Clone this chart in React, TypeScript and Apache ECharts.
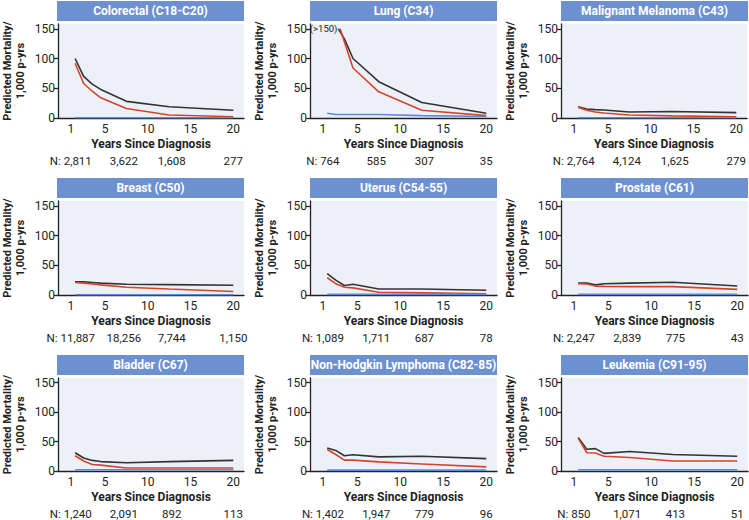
import React, { useEffect, useRef } from "react";
import * as echarts from "echarts";

// ---------- data ----------
const years = [1.5, 2.5, 3.5, 4.5, 7.5, 12.5, 20];
const lungYearsAll = [2.8, 3.5, 4.5, 7.5, 12.5, 20];
const lungYearsCancer = [3.0, 4.5, 7.5, 12.5, 20];

const titles = [
  "Colorectal (C18-C20)",
  "Lung (C34)",
  "Malignant Melanoma (C43)",
  "Breast (C50)",
  "Uterus (C54-55)",
  "Prostate (C61)",
  "Bladder (C67)",
  "Non-Hodgkin Lymphoma (C82-85)",
  "Leukemia (C91-95)",
];

// black = all-cause, red = cancer, blue = cardiovascular
const colorectalAll = [100, 70, 57, 48, 28, 19, 13];
const colorectalCancer = [92, 58, 45, 34, 16, 5, 2];
const colorectalCvd = [0.5, 0.5, 0.5, 0.5, 0.5, 0.5, 0.5];

const lungAll = [150, 133, 100, 61, 26, 8];
const lungCancer = [150, 84, 44, 13, 4];
const lungCvd = [8, 6, 6, 6, 6, 4, 2.5];

const melanomaAll = [19, 15, 14, 13.5, 10, 11, 9];
const melanomaCancer = [18, 13, 10, 8.5, 5, 3.5, 2];
const melanomaCvd = [0.5, 0.5, 0.5, 0.5, 0.5, 0.5, 0.5];

const breastAll = [22, 22, 21, 20, 18, 17.5, 16.5];
const breastCancer = [21, 20, 18.5, 17, 13, 10, 6];
const breastCvd = [0.5, 0.5, 0.5, 0.5, 0.5, 0.5, 0.5];

const uterusAll = [36, 25, 16, 18, 10, 10, 8];
const uterusCancer = [29, 19, 13, 12, 4.5, 3.5, 2];
const uterusCvd = [1, 1, 1, 1, 1, 1, 1];

const prostateAll = [20, 20, 17, 19, 20, 21.5, 15];
const prostateCancer = [19, 18.5, 15, 14.5, 14, 14, 9.5];
const prostateCvd = [1, 1, 1, 1, 1, 1, 1];

const bladderAll = [31, 22, 18, 16, 14, 16, 18];
const bladderCancer = [26, 17, 11, 10, 5, 5, 5];
const bladderCvd = [2, 2, 2, 2, 2, 2, 2];

const nhlAll = [39, 35, 26, 27.5, 24, 25, 21];
const nhlCancer = [36.5, 28, 18.5, 18.5, 15.5, 12, 7];
const nhlCvd = [1.5, 1.5, 1.5, 1.5, 1.5, 1.5, 1.5];

const leukemiaAll = [57, 37, 38, 30, 33, 28, 25];
const leukemiaCancer = [56, 31, 30.5, 25, 23, 17, 17];
const leukemiaCvd = [2, 2, 2, 2, 2, 2, 2];

const nYears = [1, 7.2, 12.8, 20];
const colorectalN = ["2,811", "3,622", "1,608", "277"];
const lungN = ["764", "585", "307", "35"];
const melanomaN = ["2,764", "4,124", "1,625", "279"];
const breastN = ["11,887", "18,256", "7,744", "1,150"];
const uterusN = ["1,089", "1,711", "687", "78"];
const prostateN = ["2,247", "2,839", "775", "43"];
const bladderN = ["1,240", "2,091", "892", "113"];
const nhlN = ["1,402", "1,947", "779", "96"];
const leukemiaN = ["850", "1,071", "413", "51"];

const xTicks = [1, 5, 10, 15, 20];
const yTicks = [0, 50, 100, 150];

// ---------- panels ----------
type Panel = {
  title: string;
  all: number[];
  allX: number[];
  cancer: number[];
  cancerX: number[];
  cvd: number[];
  cvdX: number[];
  n: string[];
  clipped?: boolean;
};

const panels: Panel[] = [
  { title: titles[0], all: colorectalAll, allX: years, cancer: colorectalCancer, cancerX: years, cvd: colorectalCvd, cvdX: years, n: colorectalN },
  { title: titles[1], all: lungAll, allX: lungYearsAll, cancer: lungCancer, cancerX: lungYearsCancer, cvd: lungCvd, cvdX: years, n: lungN, clipped: true },
  { title: titles[2], all: melanomaAll, allX: years, cancer: melanomaCancer, cancerX: years, cvd: melanomaCvd, cvdX: years, n: melanomaN },
  { title: titles[3], all: breastAll, allX: years, cancer: breastCancer, cancerX: years, cvd: breastCvd, cvdX: years, n: breastN },
  { title: titles[4], all: uterusAll, allX: years, cancer: uterusCancer, cancerX: years, cvd: uterusCvd, cvdX: years, n: uterusN },
  { title: titles[5], all: prostateAll, allX: years, cancer: prostateCancer, cancerX: years, cvd: prostateCvd, cvdX: years, n: prostateN },
  { title: titles[6], all: bladderAll, allX: years, cancer: bladderCancer, cancerX: years, cvd: bladderCvd, cvdX: years, n: bladderN },
  { title: titles[7], all: nhlAll, allX: years, cancer: nhlCancer, cancerX: years, cvd: nhlCvd, cvdX: years, n: nhlN },
  { title: titles[8], all: leukemiaAll, allX: years, cancer: leukemiaCancer, cancerX: years, cvd: leukemiaCvd, cvdX: years, n: leukemiaN },
];

// ---------- layout ----------
const COL_LEFT = [57, 310, 561];
const ROW_BOTTOM = [118, 295, 472];
const GRID_W = 187;
const GRID_H = 94;
const FONT = "Roboto, 'Noto Sans', sans-serif";
const TEXT = "#222";
const BLACK = "#333333";
const RED = "#d2452b";
const BLUE = "#5b8bd6";
const BANNER = "#6d90d0";
const PLOT_BG = "#eef0f9";

function buildOption() {
  const grid: any[] = [];
  const xAxis: any[] = [];
  const yAxis: any[] = [];
  const series: any[] = [];
  const graphic: any[] = [];

  panels.forEach((p, i) => {
    const c = i % 3;
    const r = Math.floor(i / 3);
    const left = COL_LEFT[c];
    const top = ROW_BOTTOM[r] - GRID_H;
    grid.push({
      left,
      top,
      width: GRID_W,
      height: GRID_H,
      show: true,
      backgroundColor: PLOT_BG,
      borderWidth: 0,
    });
    // main x axis
    xAxis.push({
      gridIndex: i,
      type: "value",
      min: -0.5,
      max: 21.25,
      position: "bottom",
      axisLine: { show: true, onZero: false, lineStyle: { color: TEXT, width: 1.3 } },
      axisTick: { show: false },
      splitLine: { show: false },
      axisLabel: { customValues: xTicks, color: TEXT, fontSize: 12, margin: 5, fontFamily: FONT },
      name: "Years Since Diagnosis",
      nameLocation: "middle",
      nameGap: 20,
      nameTextStyle: { color: TEXT, fontSize: 12, fontWeight: "bold", fontFamily: FONT },
    });
    // N-row axis
    const nArr = p.n;
    xAxis.push({
      gridIndex: i,
      type: "value",
      min: -0.5,
      max: 21.25,
      position: "bottom",
      offset: 29,
      axisLine: { show: false },
      axisTick: { show: false },
      splitLine: { show: false },
      axisLabel: {
        customValues: nYears,
        color: TEXT,
        fontSize: 11.5,
        margin: 8,
        fontFamily: FONT,
        formatter: (v: number) => {
          const k = nYears.findIndex((y) => Math.abs(y - v) < 1e-6);
          if (k < 0) return "";
          return k === 0 ? "N: " + nArr[k] : nArr[k];
        },
      },
    });
    yAxis.push({
      gridIndex: i,
      type: "value",
      min: 0,
      max: 158,
      axisLine: { show: true, onZero: false, lineStyle: { color: TEXT, width: 1.3 } },
      axisTick: { show: true, customValues: yTicks, length: 4, lineStyle: { color: TEXT, width: 1.3 } },
      splitLine: { show: false },
      axisLabel: { customValues: yTicks, color: TEXT, fontSize: 12, margin: 3, fontFamily: FONT },
      name: "Predicted Mortality/\n1,000 p-yrs",
      nameLocation: "middle",
      nameGap: 31,
      nameTextStyle: { color: TEXT, fontSize: 11, fontWeight: "bold", lineHeight: 13, fontFamily: FONT },
    });

    const mkLine = (xs: number[], ys: number[], color: string, withLabel: boolean) => {
      const s: any = {
        type: "line",
        xAxisIndex: i * 2,
        yAxisIndex: i,
        symbol: "none",
        showSymbol: false,
        smooth: false,
        lineStyle: { color, width: 1.6 },
        itemStyle: { color },
        silent: true,
        data: ys.map((y, k) => [xs[k], y]),
      };
      if (withLabel) {
        s.markPoint = {
          silent: true,
          symbol: "circle",
          symbolSize: 2,
          itemStyle: { color: "rgba(0,0,0,0)" },
          label: {
            show: true,
            position: "left",
            distance: 0,
            formatter: "(>150)",
            fontSize: 9.5,
            color: TEXT,
            fontFamily: FONT,
          },
          data: [{ coord: [xs[0], ys[0]] }],
        };
      }
      return s;
    };
    series.push(mkLine(p.allX, p.all, BLACK, !!p.clipped));
    series.push(mkLine(p.cancerX, p.cancer, RED, false));
    series.push(mkLine(p.cvdX, p.cvd, BLUE, false));

    graphic.push({
      type: "rect",
      x: left,
      y: top - 23,
      shape: { x: 0, y: 0, width: GRID_W, height: 20 },
      style: { fill: BANNER },
      silent: true,
    });
    graphic.push({
      type: "text",
      x: left + GRID_W / 2,
      y: top - 13,
      silent: true,
      style: {
        text: p.title,
        fill: "#ffffff",
        font: `bold 12px ${FONT}`,
        textAlign: "center",
        textVerticalAlign: "middle",
        align: "center",
        verticalAlign: "middle",
      },
    });
  });

  return {
    animation: false,
    backgroundColor: "#ffffff",
    textStyle: { fontFamily: FONT },
    grid,
    xAxis,
    yAxis,
    series,
    graphic,
  };
}

export default function App() {
  const ref = useRef<HTMLDivElement>(null);
  useEffect(() => {
    if (!ref.current) return;
    const chart = echarts.init(ref.current, undefined, { renderer: "svg" });
    chart.setOption(buildOption() as any);
    return () => chart.dispose();
  }, []);
  return (
    <div
      ref={ref}
      style={{ position: "absolute", left: 0, top: 0, width: 749, height: 520 }}
    />
  );
}
